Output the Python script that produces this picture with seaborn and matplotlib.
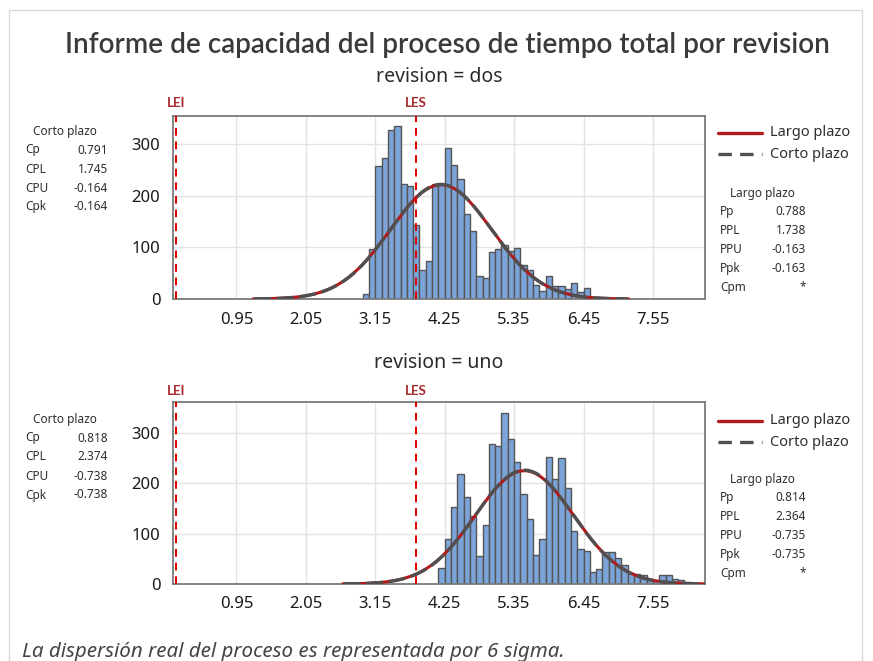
import numpy as np
import pandas as pd
import matplotlib
matplotlib.use("Agg")
import matplotlib.pyplot as plt
import seaborn as sns
from matplotlib.lines import Line2D
from matplotlib.patches import Rectangle

sns.set_theme(style="white")
plt.rcParams['font.family'] = ['Noto Sans', 'DejaVu Sans']

# ---------------- data ----------------
lei = 0.0
les = 3.8
bin_width = 0.1

dos_centers = [3.0, 3.1, 3.2, 3.3, 3.4, 3.5, 3.6, 3.7, 3.8, 3.9, 4.0, 4.1, 4.2, 4.3,
               4.4, 4.5, 4.6, 4.7, 4.8, 4.9, 5.0, 5.1, 5.2, 5.3, 5.4, 5.5, 5.6, 5.7,
               5.8, 5.9, 6.0, 6.1, 6.2, 6.3, 6.4, 6.5]
dos_counts = [9, 97, 258, 272, 327, 335, 223, 219, 143, 57, 73, 222, 222, 292,
              260, 232, 164, 131, 45, 40, 91, 97, 105, 92, 99, 65, 57, 27,
              15, 45, 26, 26, 20, 31, 13, 21]
dos_mean = 4.192
dos_sigma_within = 0.8007
dos_sigma_overall = 0.8037

uno_centers = [4.2, 4.3, 4.4, 4.5, 4.6, 4.7, 4.8, 4.9, 5.0, 5.1, 5.2, 5.3, 5.4, 5.5,
               5.6, 5.7, 5.8, 5.9, 6.0, 6.1, 6.2, 6.3, 6.4, 6.5, 6.6, 6.7, 6.8, 6.9,
               7.0, 7.1, 7.2, 7.3, 7.4, 7.5, 7.6, 7.7, 7.8, 7.9, 8.0, 8.1]
uno_counts = [32, 90, 154, 218, 174, 136, 56, 117, 279, 275, 340, 288, 242, 179,
              129, 58, 90, 252, 209, 250, 191, 105, 69, 66, 23, 29, 64, 64,
              52, 37, 21, 19, 17, 8, 6, 18, 18, 10, 7, 3]
uno_mean = 5.514
uno_sigma_within = 0.7742
uno_sigma_overall = 0.778

x_ticks = [0.95, 2.05, 3.15, 4.25, 5.35, 6.45, 7.55]
y_ticks = [0, 100, 200, 300]

corto_labels = ["Cp", "CPL", "CPU", "Cpk"]
dos_corto = ["0.791", "1.745", "-0.164", "-0.164"]
uno_corto = ["0.818", "2.374", "-0.738", "-0.738"]
largo_labels = ["Pp", "PPL", "PPU", "Ppk", "Cpm"]
dos_largo = ["0.788", "1.738", "-0.163", "-0.163", "*"]
uno_largo = ["0.814", "2.364", "-0.735", "-0.735", "*"]

# ---------------- styling ----------------
W, H = 873, 661
fig = plt.figure(figsize=(W / 100, H / 100), dpi=100)
fig.patch.set_facecolor("white")


def fx(x):
    return x / W


def fy(y):
    return 1 - y / H


# panel frame
fig.add_artist(Rectangle((fx(9), fy(700)), fx(853), (700 - 10) / H, transform=fig.transFigure,
                         fill=False, edgecolor="#d9d9d9", linewidth=1.0))

BAR = "#7BA4D9"
EDGE = "#555555"
RED = "#B01C1C"
GRAY = "#505050"
TXT = "#2e2e2e"
XMIN, XMAX = -0.055, 8.375
STAT_FS = 8.5
BOLD_FAM = ['Lato', 'Noto Sans', 'DejaVu Sans']


def normal_curve(mean, sigma, n_scale):
    xs = np.linspace(mean - 3.7 * sigma, mean + 3.7 * sigma, 300)
    ys = n_scale * np.exp(-0.5 * ((xs - mean) / sigma) ** 2) / (sigma * np.sqrt(2 * np.pi))
    return xs, ys


def draw_panel(rect_px, name, centers, counts, mean, s_within, s_overall, ymax,
               title_y, spec_label_y, corto_vals, largo_vals, left_y0, legend_y0, largo_y0):
    x0, y_top, x1, y_bot = rect_px
    ax = fig.add_axes([fx(x0), fy(y_bot), fx(x1 - x0), (y_bot - y_top) / H])
    edges = [round(c - bin_width / 2, 3) for c in centers] + [round(centers[-1] + bin_width / 2, 3)]
    df = pd.DataFrame({"x": centers, "w": counts})
    sns.histplot(data=df, x="x", weights="w", bins=edges, ax=ax, color=BAR,
                 edgecolor=EDGE, linewidth=1.0, alpha=1.0, zorder=2)
    n_scale = sum(counts) * bin_width
    xs, ys = normal_curve(mean, s_overall, n_scale)
    sns.lineplot(x=xs, y=ys, ax=ax, color=RED, linewidth=2.2, zorder=4, sort=False)
    xs2, ys2 = normal_curve(mean, s_within, n_scale)
    ax.plot(xs2, ys2, color=GRAY, linewidth=2.4, linestyle=(0, (5, 1.8)), zorder=5)

    for v in (lei, les):
        ax.axvline(v, color="#E00000", linestyle=(0, (4, 3)), linewidth=1.4, zorder=6)
    ax.set_xlim(XMIN, XMAX)
    ax.set_ylim(0, ymax)
    ax.set_xticks(x_ticks)
    ax.set_xticklabels([f"{t:.2f}" for t in x_ticks])
    ax.set_yticks(y_ticks)
    ax.set_ylabel("")
    ax.set_xlabel("")
    ax.grid(True, color="#e3e3e3", linewidth=1.0, zorder=0)
    ax.set_axisbelow(True)
    for s in ax.spines.values():
        s.set_color("#7a7a7a")
        s.set_linewidth(1.3)
    ax.tick_params(axis="both", which="both", length=5, width=1, color="#7a7a7a",
                   labelsize=12, labelcolor="#1a1a1a", pad=4)
    ax.tick_params(axis="x", pad=4)

    # spec labels
    for v, lab in ((lei, "LEI"), (les, "LES")):
        xpix = x0 + (v - XMIN) / (XMAX - XMIN) * (x1 - x0)
        fig.text(fx(xpix), fy(spec_label_y), lab, color="#A52A2A", fontsize=9.5,
                 family=BOLD_FAM, fontweight="bold", ha="center", va="center")

    fig.text(fx((x0 + x1) / 2), fy(title_y), "revision = " + name,
             fontsize=14, color="#2a2a2a", ha="center", va="center")

    # left stats block
    fig.text(fx(65), fy(left_y0), "Corto plazo", fontsize=STAT_FS, color=TXT, ha="center", va="center")
    for i, (lab, val) in enumerate(zip(corto_labels, corto_vals)):
        yy = left_y0 + 19 * (i + 1)
        fig.text(fx(25), fy(yy), lab, fontsize=STAT_FS, color=TXT, ha="left", va="center")
        fig.text(fx(108), fy(yy), val, fontsize=STAT_FS, color=TXT, ha="right", va="center")

    # legend
    lx0, lx1 = 718, 762
    for j, (col, ls, lab) in enumerate(((RED, "-", "Largo plazo"), (GRAY, (0, (4, 2.5)), "Corto plazo"))):
        yy = legend_y0 + 21 * j
        fig.add_artist(Line2D([fx(lx0), fx(lx1)], [fy(yy), fy(yy)], transform=fig.transFigure,
                              color=col, linewidth=2.4, linestyle=ls))
        fig.text(fx(770), fy(yy), lab, fontsize=10.5, color=TXT, ha="left", va="center")

    # right stats block
    fig.text(fx(762), fy(largo_y0), "Largo plazo", fontsize=STAT_FS, color=TXT, ha="center", va="center")
    for i, (lab, val) in enumerate(zip(largo_labels, largo_vals)):
        yy = largo_y0 + 18.8 * (i + 1)
        fig.text(fx(720), fy(yy), lab, fontsize=STAT_FS, color=TXT, ha="left", va="center")
        fig.text(fx(806), fy(yy), val, fontsize=STAT_FS, color=TXT, ha="right", va="center")
    return ax


draw_panel((173, 116, 705, 299), "dos", dos_centers, dos_counts, dos_mean, dos_sigma_within,
           dos_sigma_overall, 354, 77, 103, dos_corto, dos_largo, 131, 133, 193)
draw_panel((173, 402, 705, 584), "uno", uno_centers, uno_counts, uno_mean, uno_sigma_within,
           uno_sigma_overall, 362, 363, 391, uno_corto, uno_largo, 419, 421, 479)

fig.text(fx(447), fy(45.5), "Informe de capacidad del proceso de tiempo total por revision",
         fontsize=20.1, family=BOLD_FAM, fontweight="semibold", color="#3a3a3a", ha="center", va="center")
fig.text(fx(22), fy(652), "La dispersión real del proceso es representada por 6 sigma.",
         fontsize=14.8, fontstyle="italic", color="#444444", ha="left", va="center")

fig.savefig("out.png", dpi=100, facecolor="white")
